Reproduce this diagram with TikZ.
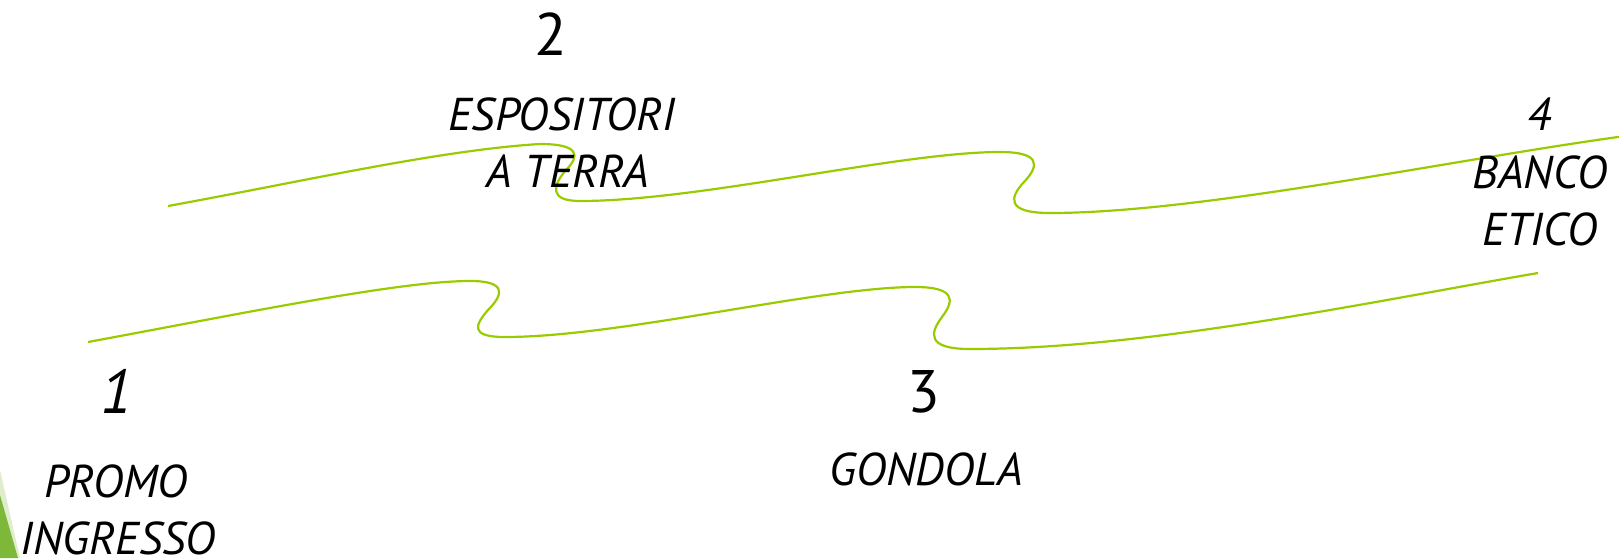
\documentclass[tikz,border=0pt]{standalone}
\usepackage{fontspec}
\setmainfont{PT Sans}
\definecolor{wave}{HTML}{99CC00}
\definecolor{leaf}{HTML}{7DB83A}
\begin{document}
\begin{tikzpicture}[x=1pt,y=-1pt,
  lbl/.style={anchor=base,inner sep=0pt,font=\fontsize{46}{50}\selectfont\itshape},
  num/.style={anchor=base,inner sep=0pt,font=\fontsize{60}{64}\selectfont},
  wavy/.style={draw=wave,line width=2.2pt}]
\useasboundingbox (0,0) rectangle (1619,558);
\clip (0,0) rectangle (1619,558);
% leaf corner
\fill[leaf!25] (0,470) -- (20,558) -- (0,558) -- cycle;
\fill[leaf] (0,495) -- (18,558) -- (0,558) -- cycle;
% upper wave
\draw[wavy] (168,206) .. controls (300,182) and (440,150) .. (540,144)
  .. controls (580,144) and (580,156) .. (566,170)
  .. controls (553,185) and (548,201) .. (580,201)
  .. controls (700,201) and (900,152) .. (1000,152)
  .. controls (1040,152) and (1040,165) .. (1024,182)
  .. controls (1010,197) and (1005,213) .. (1050,213)
  .. controls (1200,213) and (1450,160) .. (1625,136);
% lower wave
\draw[wavy] (88,342) .. controls (250,312) and (400,281) .. (470,281)
  .. controls (505,281) and (505,293) .. (488,310)
  .. controls (476,324) and (468,337) .. (505,337)
  .. controls (620,337) and (820,287) .. (915,287)
  .. controls (955,287) and (955,300) .. (942,317)
  .. controls (930,333) and (926,349) .. (970,349)
  .. controls (1150,349) and (1380,300) .. (1538,273);
% labels
\node[num] (n2) at (551,55) {2};
\node[lbl] (esp) at (562,130) {ESPOSITORI};
\node[lbl] (ter) at (568,187) {A TERRA};
\node[lbl] (n4) at (1539,130) {4};
\node[lbl] (ban) at (1540,188) {BANCO};
\node[lbl] (eti) at (1540,245) {ETICO};
\node[num,font=\fontsize{62}{66}\selectfont\itshape] (n1) at (117,413) {1};
\node[lbl] (pro) at (116,497) {PROMO};
\node[lbl] (ing) at (118,554) {INGRESSO};
\node[num] (n3) at (924,412) {3};
\node[lbl] (gon) at (926,485) {GONDOLA};
\end{tikzpicture}
\end{document}
